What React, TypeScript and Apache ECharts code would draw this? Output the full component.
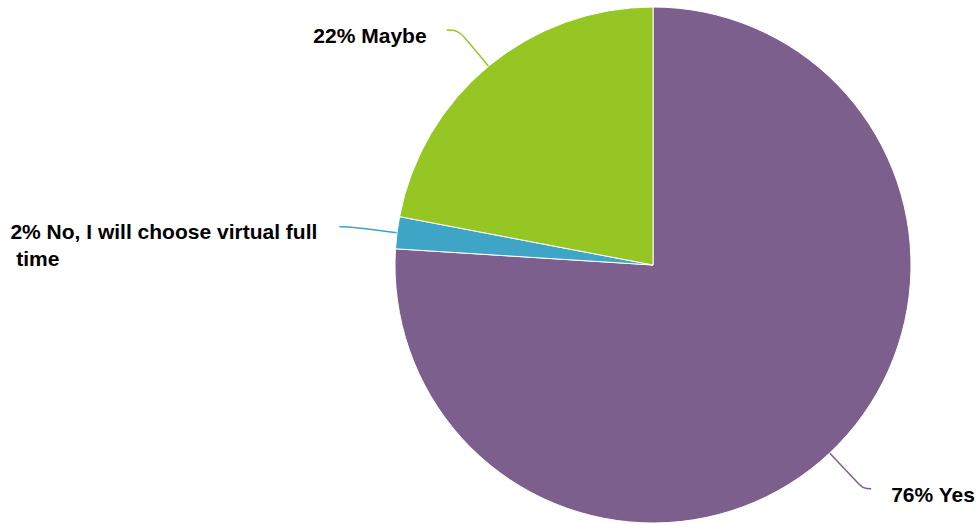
import React, { useEffect, useRef } from "react";
import * as echarts from "echarts";

const categories = ["Yes", "No, I will choose virtual full time", "Maybe"];
const values = [76, 2, 22];
const colors = ["#7D5F8E", "#3EA5C6", "#96C624"];

export default function App() {
  const ref = useRef<HTMLDivElement>(null);
  useEffect(() => {
    if (!ref.current) return;
    const chart = echarts.init(ref.current, null, { renderer: "svg" });
    const lineCfg = [
      { length: 49, length2: 8, pad: [12, 0, 0, 0], width: undefined },
      { length: 48, length2: 10, pad: [37, 0, 0, 0], width: 309 },
      { length: 47, length2: 12, pad: [12, 0, 0, 0], width: undefined },
    ];
    const data = categories.map((name, i) => {
      const label: any = { padding: lineCfg[i].pad };
      if (lineCfg[i].width) {
        label.width = lineCfg[i].width;
        label.overflow = "break";
      }
      return {
        name,
        value: values[i],
        itemStyle: { color: colors[i] },
        labelLine: {
          length: lineCfg[i].length,
          length2: lineCfg[i].length2,
          lineStyle: { color: colors[i], width: 1.5 },
        },
        label,
      };
    });
    chart.setOption({
      animation: false,
      backgroundColor: "#ffffff",
      series: [
        {
          type: "pie",
          center: [653, 265],
          radius: [0, 258],
          startAngle: 90,
          clockwise: true,
          avoidLabelOverlap: false,
          itemStyle: { borderColor: "#ffffff", borderWidth: 1 },
          label: {
            show: true,
            position: "outside",
            distanceToLabelLine: 20,
            bleedMargin: 0,
            formatter: (p: any) => `{t|${Math.round(p.percent)}% ${p.name}}`,
            rich: {
              t: {
                fontFamily: "Liberation Sans, Arial, sans-serif",
                fontSize: 21,
                fontWeight: "bold",
                color: "#000000",
                lineHeight: 27,
                align: "left",
              },
            },
          },
          labelLine: { show: true, smooth: 0.4 },
          data,
        },
      ],
    });
    return () => chart.dispose();
  }, []);
  return (
    <div
      ref={ref}
      style={{ position: "fixed", left: 0, top: 0, width: 980, height: 525 }}
    />
  );
}
